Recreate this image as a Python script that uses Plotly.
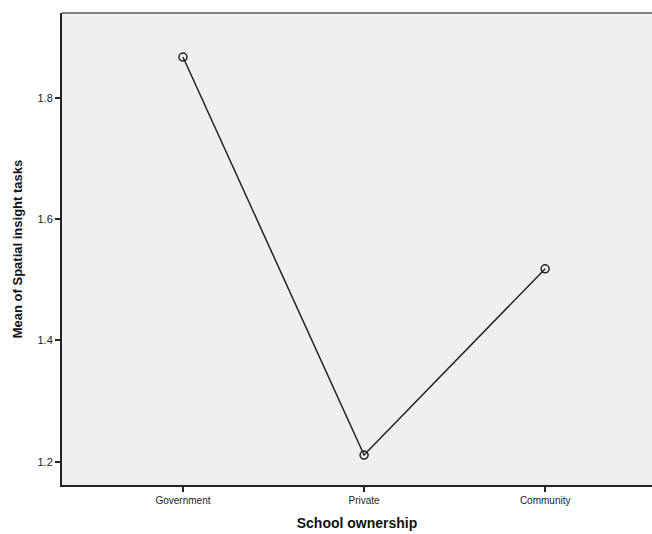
import plotly.graph_objects as go

categories = ["Government", "Private", "Community"]
means = [1.867, 1.211, 1.518]
y_ticks = [1.2, 1.4, 1.6, 1.8]
y_tick_labels = ["1.2", "1.4", "1.6", "1.8"]

fig = go.Figure()
fig.add_trace(go.Scatter(
    x=[0, 1, 2], y=means, mode="lines+markers",
    line=dict(color="#222222", width=1.5),
    marker=dict(symbol="circle-open", size=8, color="#222222", line=dict(width=1.5)),
    showlegend=False, hoverinfo="skip",
))

font = "Liberation Sans, Arial, sans-serif"
fig.update_layout(
    width=652, height=534,
    margin=dict(l=62, r=0, t=13, b=49),
    paper_bgcolor="white", plot_bgcolor="#efefef",
    font=dict(family=font, color="#222222"),
    xaxis=dict(
        range=[-0.668, 2.59], tickmode="array", tickvals=[0, 1, 2], ticktext=categories,
        showgrid=False, zeroline=False, showline=True, linecolor="#222222", linewidth=2,
        ticks="outside", ticklen=5, tickwidth=1.5, tickcolor="#222222",
        tickfont=dict(size=10, family=font, color="#222222"),
        title=dict(text="<b>School ownership</b>", font=dict(size=14, family=font, color="#111111"), standoff=13),
    ),
    yaxis=dict(
        range=[1.1616, 1.9396], tickmode="array", tickvals=y_ticks, ticktext=y_tick_labels,
        showgrid=False, zeroline=False, showline=True, linecolor="#222222", linewidth=2,
        ticks="outside", ticklen=5, tickwidth=1.5, tickcolor="#222222",
        tickfont=dict(size=11, family=font, color="#222222"),
        title=dict(text="<b>Mean of Spatial insight tasks</b>", font=dict(size=13, family=font, color="#111111"), standoff=12),
    ),
    shapes=[dict(type="line", xref="paper", yref="paper", x0=0, x1=1, y0=1, y1=1,
                 line=dict(color="#808080", width=2))],
)

fig.write_html("out.html", config={"displayModeBar": False},
               post_script="document.body.style.margin='0px';document.body.style.overflow='hidden';")
